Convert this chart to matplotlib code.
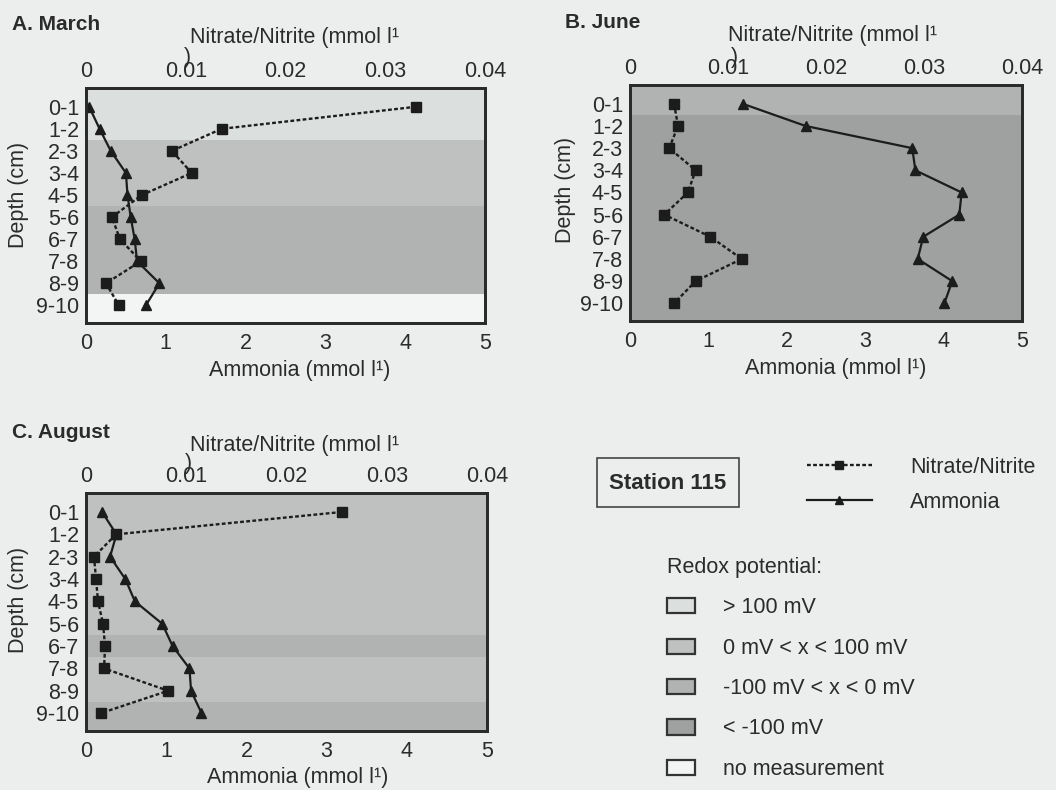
import matplotlib
matplotlib.use('Agg')
import matplotlib.pyplot as plt
from matplotlib.patches import Patch, Rectangle

plt.rcParams['font.family'] = ['Liberation Sans', 'DejaVu Sans']

# ---------------- data ----------------
depth_labels = ['0-1', '1-2', '2-3', '3-4', '4-5', '5-6', '6-7', '7-8', '8-9', '9-10']

march_ammonia = [0.04, 0.17, 0.31, 0.50, 0.52, 0.56, 0.61, 0.64, 0.92, 0.75]
march_nitrate = [0.0331, 0.0136, 0.0086, 0.0106, 0.0056, 0.0026, 0.0034, 0.0055, 0.0020, 0.0033]

june_ammonia = [1.44, 2.24, 3.60, 3.64, 4.23, 4.20, 3.74, 3.67, 4.11, 4.01]
june_nitrate = [0.0045, 0.0049, 0.0040, 0.0067, 0.0059, 0.0035, 0.0082, 0.0114, 0.0067, 0.0045]

august_ammonia = [0.20, 0.38, 0.30, 0.49, 0.61, 0.95, 1.08, 1.29, 1.31, 1.44]
august_nitrate = [0.0255, 0.0030, 0.0008, 0.0010, 0.0012, 0.0017, 0.0019, 0.0018, 0.0082, 0.0015]

# redox class per depth layer (index into redox_labels)
march_redox = [0, 0, 1, 1, 1, 2, 2, 2, 2, 4]
june_redox = [2, 3, 3, 3, 3, 3, 3, 3, 3, 3]
august_redox = [1, 1, 1, 1, 1, 1, 2, 1, 1, 2]

redox_labels = ['> 100 mV', '0 mV < x < 100 mV', '-100 mV < x < 0 mV', '< -100 mV', 'no measurement']
redox_colors = ['#dbdfde', '#bec1c0', '#b0b3b1', '#9ea19f', '#f3f5f4']

ammonia_ticks = [0, 1, 2, 3, 4, 5]
nitrate_ticks = [0, 0.01, 0.02, 0.03, 0.04]
nitrate_ticklabels = ['0', '0.01', '0.02', '0.03', '0.04']

# ---------------- figure ----------------
W, H = 1056, 790
BG = '#eceeed'
TXT = '#2b2b2b'
FS_TICK = 15.5
FS_LAB = 15.5
fig = plt.figure(figsize=(W / 100, H / 100), dpi=100, facecolor=BG)


def rect(l, t, r, b):
    return [l / W, 1 - b / H, (r - l) / W, (b - t) / H]


def ftext(x, y, s, **kw):
    kw.setdefault('color', TXT)
    return fig.text(x / W, 1 - y / H, s, **kw)


YLIM = (9.8, -0.85)
handles = {}


def panel(r, ammonia, nitrate, redox):
    ax = fig.add_axes(rect(*r))
    n = len(depth_labels)
    ys = list(range(n))
    ax.set_ylim(*YLIM)
    for i, c in enumerate(redox):
        lo = i - 0.5 if i > 0 else YLIM[1]
        hi = i + 0.5 if i < n - 1 else YLIM[0]
        ax.axhspan(lo, hi, color=redox_colors[c], lw=0, zorder=0)
    la, = ax.plot(ammonia, ys, '-', color='#1c1c1c', lw=1.6, marker='^', ms=6.5, zorder=3)
    ax.set_xlim(0, 5)
    ax.set_xticks(ammonia_ticks)
    ax.set_xticklabels([str(t) for t in ammonia_ticks])
    ax.set_yticks(ys)
    ax.set_yticklabels(depth_labels)
    ax.tick_params(axis='x', length=0, labelsize=FS_TICK, colors=TXT, pad=7)
    ax.tick_params(axis='y', length=0, labelsize=FS_TICK, colors=TXT, pad=5)
    ax2 = ax.twiny()
    ln, = ax2.plot(nitrate, ys, color='#1c1c1c', ls=(0, (1.6, 1.0)), lw=1.7,
                   marker='s', ms=7.5, zorder=3)
    ax2.set_xlim(0, 0.04)
    ax2.set_xticks(nitrate_ticks)
    ax2.set_xticklabels(nitrate_ticklabels)
    ax2.tick_params(axis='x', length=0, labelsize=FS_TICK, colors=TXT, pad=4)
    for a in (ax, ax2):
        for s in a.spines.values():
            s.set_linewidth(2.0)
            s.set_color('#2a2a2a')
    handles['ammonia'] = la
    handles['nitrate'] = ln
    return ax


# Panel A
panel((86, 88, 485, 323), march_ammonia, march_nitrate, march_redox)
ftext(12, 25, 'A. March', fontsize=15, fontweight='bold', ha='left', va='center')
ftext(295, 38, 'Nitrate/Nitrite (mmol l¹', fontsize=FS_LAB, ha='center', va='center')
ftext(184, 58, ')', fontsize=FS_LAB, ha='left', va='center')
ftext(300, 370, 'Ammonia (mmol l¹)', fontsize=FS_LAB, ha='center', va='center')
ftext(19, 195, 'Depth (cm)', fontsize=FS_LAB, rotation=90, ha='center', va='center')

# Panel B
panel((630, 85, 1022, 321), june_ammonia, june_nitrate, june_redox)
ftext(565, 22, 'B. June', fontsize=15, fontweight='bold', ha='left', va='center')
ftext(833, 36, 'Nitrate/Nitrite (mmol l¹', fontsize=FS_LAB, ha='center', va='center')
ftext(731, 57, ')', fontsize=FS_LAB, ha='left', va='center')
ftext(836, 368, 'Ammonia (mmol l¹)', fontsize=FS_LAB, ha='center', va='center')
ftext(566, 190, 'Depth (cm)', fontsize=FS_LAB, rotation=90, ha='center', va='center')

# Panel C
panel((86, 493, 487, 731), august_ammonia, august_nitrate, august_redox)
ftext(12, 433, 'C. August', fontsize=15, fontweight='bold', ha='left', va='center')
ftext(295, 445, 'Nitrate/Nitrite (mmol l¹', fontsize=FS_LAB, ha='center', va='center')
ftext(185, 464, ')', fontsize=FS_LAB, ha='left', va='center')
ftext(298, 778, 'Ammonia (mmol l¹)', fontsize=FS_LAB, ha='center', va='center')
ftext(19, 600, 'Depth (cm)', fontsize=FS_LAB, rotation=90, ha='center', va='center')

# Station box
fig.patches.append(Rectangle((597 / W, 1 - 507 / H), (739 - 597) / W, (507 - 458) / H,
                             transform=fig.transFigure, facecolor='none',
                             edgecolor='#444444', lw=1.2))
ftext(668, 483, 'Station 115', fontsize=16, fontweight='bold', ha='center', va='center')

# Series legend
leg1 = fig.legend([handles['nitrate'], handles['ammonia']], ['Nitrate/Nitrite', 'Ammonia'],
                  loc='center left', bbox_to_anchor=(807 / W, 1 - 485 / H),
                  frameon=False, fontsize=15.5, handlelength=3.0, handletextpad=1.8,
                  labelspacing=0.65, borderpad=0, borderaxespad=0, numpoints=1,
                  markerscale=0.8, labelcolor=TXT)

# Redox legend
patches = [Patch(facecolor=c, edgecolor='#333333', lw=1.6) for c in redox_colors]
leg2 = fig.legend(patches, redox_labels, title='Redox potential:', alignment='left',
                  loc='upper left', bbox_to_anchor=(667 / W, 1 - 557 / H),
                  frameon=False, fontsize=15.5, title_fontsize=15.5,
                  handlelength=1.3, handleheight=0.7, handletextpad=1.3,
                  labelspacing=0.9, borderpad=0, borderaxespad=0, labelcolor=TXT)
leg2.get_title().set_color(TXT)

fig.savefig('out.png', dpi=100, facecolor=BG)
